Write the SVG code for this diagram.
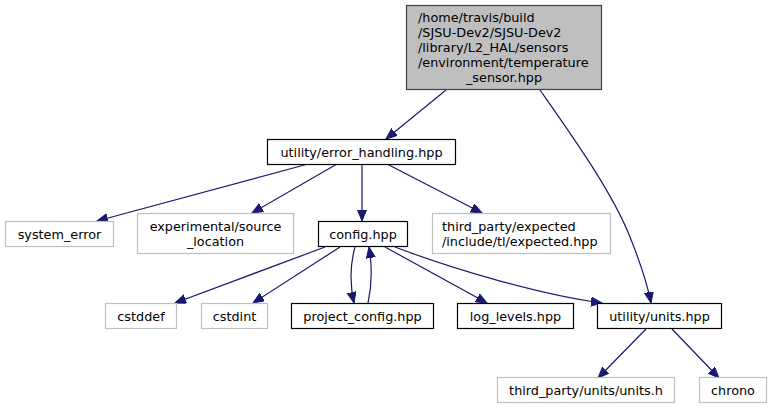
<svg xmlns="http://www.w3.org/2000/svg" width="771" height="409" viewBox="0 0 771 409">
<style>
text{font-family:"DejaVu Sans","Liberation Sans",sans-serif;font-size:12.8px;fill:#000}
.c{text-anchor:middle}
.s{text-anchor:start}
.n rect{fill:#fff;stroke:#000;stroke-width:1.2}
.x rect{fill:#fff;stroke:#bfbfbf;stroke-width:1.2}
.e path{fill:none;stroke:#191970;stroke-width:1.2;marker-end:url(#ah)}
</style>
<defs>
<marker id="ah" markerUnits="userSpaceOnUse" markerWidth="12" markerHeight="10" refX="11" refY="4.5" orient="auto">
<path d="M0,0 L11,4.5 L0,9 z" fill="#191970" stroke="#191970" stroke-width="1"/>
</marker>
</defs>
<rect width="771" height="409" fill="#fff"/>
<g id="edges" class="e">
<path d="M446,90 L386,139"/>
<path d="M540,90 C575,140 612,192 630,237 C640,262 647,282 651,303"/>
<path d="M308,164 L97,221"/>
<path d="M337,164 L252,213"/>
<path d="M362,164 L362,221"/>
<path d="M387,164 L482,213"/>
<path d="M325,247 L175,303"/>
<path d="M340,247 L253,303"/>
<path d="M355,247 C350,265 350,285 354,303"/>
<path d="M368,303 C372,285 372,265 369,247"/>
<path d="M385,247 L487,303"/>
<path d="M395,247 C450,268 540,295 602,303"/>
<path d="M646,329 L598,378"/>
<path d="M672,329 L719,378"/>
</g>
<g id="node-temperature_sensor">
<rect x="406.5" y="5.5" width="195" height="84" fill="#bfbfbf" stroke="#404040" stroke-width="1.2"/>
<text class="s" x="418" y="21.5">/home/travis/build</text>
<text class="s" x="418" y="36.5">/SJSU-Dev2/SJSU-Dev2</text>
<text class="s" x="418" y="51.5">/library/L2_HAL/sensors</text>
<text class="s" x="418" y="66.5">/environment/temperature</text>
<text class="c" x="504" y="81.5">_sensor.hpp</text>
</g>
<g id="node-error_handling" class="n">
<rect x="267.5" y="139.5" width="188" height="25"/>
<text class="c" x="361.5" y="156.5">utility/error_handling.hpp</text>
</g>
<g id="node-system_error" class="x">
<rect x="5.5" y="221.5" width="108" height="25"/>
<text class="c" x="59.5" y="238.5">system_error</text>
</g>
<g id="node-source_location" class="x">
<rect x="137.5" y="213.5" width="156" height="40"/>
<text class="c" x="215.5" y="230.5">experimental/source</text>
<text class="c" x="215.5" y="245.5">_location</text>
</g>
<g id="node-config" class="n">
<rect x="318.5" y="221.5" width="89" height="25"/>
<text class="c" x="363" y="238.5">config.hpp</text>
</g>
<g id="node-expected" class="x">
<rect x="432.5" y="213.5" width="178" height="40"/>
<text class="s" x="442" y="230.5">third_party/expected</text>
<text class="s" x="442" y="245.5">/include/tl/expected.hpp</text>
</g>
<g id="node-cstddef" class="x">
<rect x="105.5" y="303.5" width="71" height="25"/>
<text class="c" x="141" y="320.5">cstddef</text>
</g>
<g id="node-cstdint" class="x">
<rect x="201.5" y="303.5" width="66" height="25"/>
<text class="c" x="234.5" y="320.5">cstdint</text>
</g>
<g id="node-project_config" class="n">
<rect x="291.5" y="303.5" width="142" height="25"/>
<text class="c" x="362.5" y="320.5">project_config.hpp</text>
</g>
<g id="node-log_levels" class="n">
<rect x="457.5" y="303.5" width="116" height="25"/>
<text class="c" x="515.5" y="320.5">log_levels.hpp</text>
</g>
<g id="node-units" class="n">
<rect x="597.5" y="303.5" width="124" height="25"/>
<text class="c" x="659.5" y="320.5">utility/units.hpp</text>
</g>
<g id="node-units_h" class="x">
<rect x="497.5" y="377.5" width="177" height="25"/>
<text class="c" x="586" y="394.5">third_party/units/units.h</text>
</g>
<g id="node-chrono" class="x">
<rect x="699.5" y="377.5" width="67" height="25"/>
<text class="c" x="733" y="394.5">chrono</text>
</g>
</svg>
